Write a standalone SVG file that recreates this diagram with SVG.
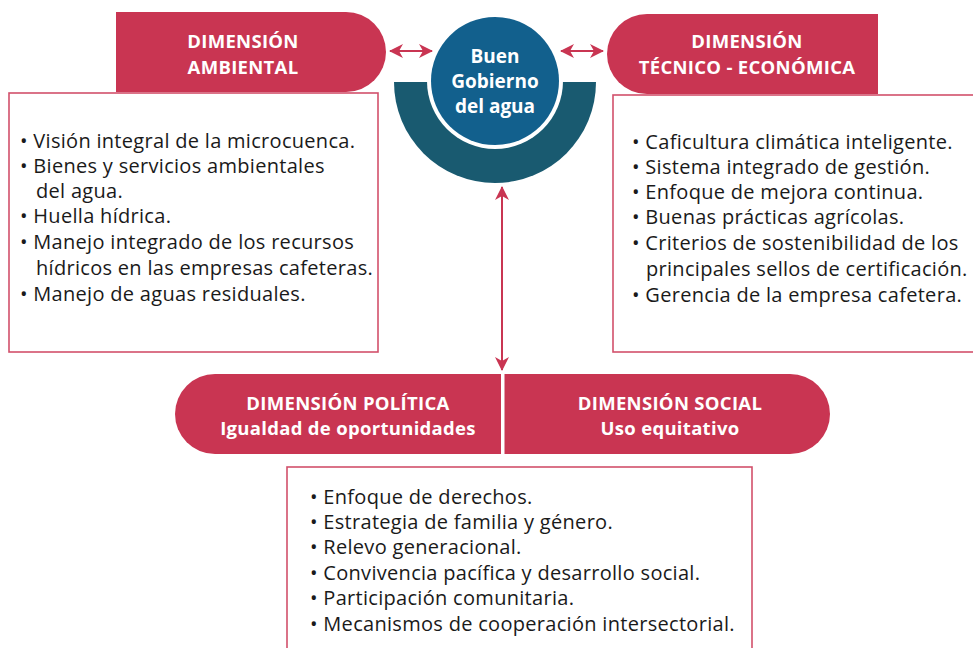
<svg xmlns="http://www.w3.org/2000/svg" width="973" height="648" viewBox="0 0 973 648">
<defs>
<style>
.hdr{fill:#c93552}
.box{fill:#fff;stroke:#d2506b;stroke-width:1.6}
.ht{font-family:"Open Sans","Noto Sans",sans-serif;font-weight:700;font-size:18.5px;letter-spacing:0.3px;fill:#fff;text-anchor:middle}
.bt{font-family:"Open Sans","Noto Sans",sans-serif;font-size:20px;letter-spacing:0.3px;fill:#1a1a1a}
.ct{font-family:"Open Sans","Noto Sans",sans-serif;font-weight:700;font-size:19px;fill:#fff;text-anchor:middle}
.arr{stroke:#c93552;stroke-width:2;fill:none;marker-start:url(#ah);marker-end:url(#ah)}
</style>
<marker id="ah" viewBox="0 0 14 14" refX="13" refY="7" markerWidth="14" markerHeight="14" markerUnits="userSpaceOnUse" orient="auto-start-reverse">
<path d="M0,0 L14,7 L0,14 L4,7 z" fill="#c93552"/>
</marker>
</defs>
<rect width="973" height="648" fill="#fff"/>

<g id="ambiental">
<path class="hdr" d="M116,12 H346 A40,40 0 0 1 346,92 H116 Z"/>
<rect class="box" x="9" y="93" width="369" height="259"/>
<text class="ht" x="243" y="48">DIMENSIÓN</text>
<text class="ht" x="243" y="74">AMBIENTAL</text>
<g class="bt">
<text x="20" y="148">• Visión integral de la microcuenca.</text>
<text x="20" y="173">• Bienes y servicios ambientales</text>
<text x="36" y="198">del agua.</text>
<text x="20" y="223">• Huella hídrica.</text>
<text x="20" y="249">• Manejo integrado de los recursos</text>
<text x="36" y="275">hídricos en las empresas cafeteras.</text>
<text x="20" y="301">• Manejo de aguas residuales.</text>
</g>
</g>

<g id="tecnico">
<path class="hdr" d="M647,14 H878 V94 H647 A40,40 0 0 1 647,14 Z"/>
<rect class="box" x="613" y="95" width="370" height="257"/>
<text class="ht" x="747" y="48">DIMENSIÓN</text>
<text class="ht" x="747" y="74">TÉCNICO - ECONÓMICA</text>
<g class="bt">
<text x="632" y="149">• Caficultura climática inteligente.</text>
<text x="632" y="174">• Sistema integrado de gestión.</text>
<text x="632" y="199">• Enfoque de mejora continua.</text>
<text x="632" y="224">• Buenas prácticas agrícolas.</text>
<text x="632" y="250">• Criterios de sostenibilidad de los</text>
<text x="646" y="276">principales sellos de certificación.</text>
<text x="632" y="302">• Gerencia de la empresa cafetera.</text>
</g>
</g>

<g id="buen-gobierno">
<path d="M394,82 H596 A101,101 0 0 1 394,82 Z" fill="#195a70"/>
<circle cx="495" cy="81" r="68" fill="#fff"/>
<circle cx="495" cy="81" r="64" fill="#12608d"/>
<text class="ct" x="495" y="63">Buen</text>
<text class="ct" x="495" y="88">Gobierno</text>
<text class="ct" x="495" y="113">del agua</text>
</g>

<g id="politica-social">
<rect class="hdr" x="175" y="374" width="655" height="80" rx="40" ry="40"/>
<rect x="501" y="374" width="3.5" height="80" fill="#fff"/>
<text class="ht" x="348" y="410">DIMENSIÓN POLÍTICA</text>
<text class="ht" x="348" y="435">Igualdad de oportunidades</text>
<text class="ht" x="670" y="410">DIMENSIÓN SOCIAL</text>
<text class="ht" x="670" y="435">Uso equitativo</text>
</g>

<g id="politica-social-items">
<rect class="box" x="287" y="467" width="465" height="200"/>
<g class="bt">
<text x="310" y="504">• Enfoque de derechos.</text>
<text x="310" y="529">• Estrategia de familia y género.</text>
<text x="310" y="554">• Relevo generacional.</text>
<text x="310" y="580">• Convivencia pacífica y desarrollo social.</text>
<text x="310" y="605">• Participación comunitaria.</text>
<text x="310" y="631">• Mecanismos de cooperación intersectorial.</text>
</g>
</g>

<g id="connectors">
<line class="arr" x1="390" y1="51" x2="432" y2="51"/>
<line class="arr" x1="561" y1="51" x2="603" y2="51"/>
<line class="arr" x1="502" y1="187" x2="502" y2="370"/>
</g>
</svg>
